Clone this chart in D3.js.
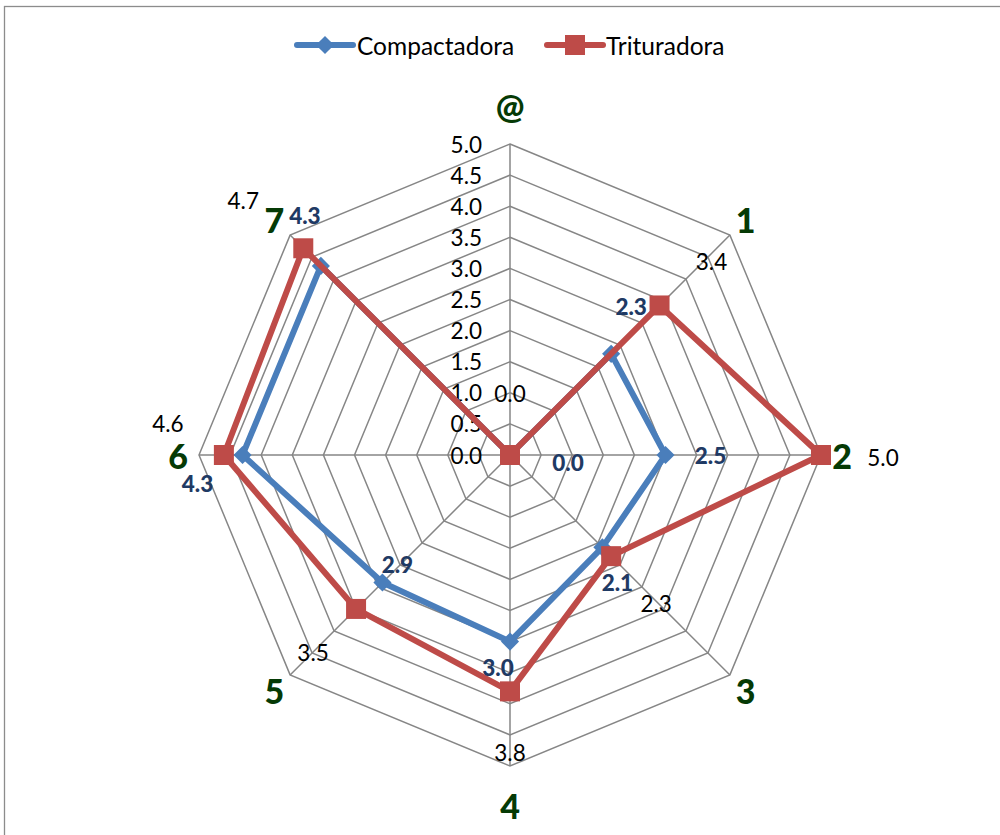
<!DOCTYPE html>
<html>
<head>
<meta charset="utf-8">
<script src="https://cdn.jsdelivr.net/npm/d3@7/dist/d3.min.js"></script>
<style>
  html, body { margin: 0; padding: 0; background: #fff; }
  svg { display: block; font-family: Lato, "Open Sans", sans-serif; }
</style>
</head>
<body>
<svg id="chart" width="1000" height="835"></svg>
<script>
// Radar chart: two machines rated on eight criteria
const categories = ["@", "1", "2", "3", "4", "5", "6", "7"];
const compactadora = [0.0, 2.3, 2.5, 2.1, 3.0, 2.9, 4.3, 4.3];
const trituradora  = [0.0, 3.4, 5.0, 2.3, 3.8, 3.5, 4.6, 4.7];
const seriesNames = ["Compactadora", "Trituradora"];
const tickValues = [0, 0.5, 1, 1.5, 2, 2.5, 3, 3.5, 4, 4.5, 5];

// Hand-tuned placement of each value label relative to its point
const compLabelOffsets = [[58, 7], [20, -47], [45, 0], [15, 35], [-12, 26], [15, -18], [-45, 28], [-16, -50]];
const tritLabelOffsets = [[0, -62], [52, -44], [62, 2], [45, 47], [0, 61], [-43, 44], [-56, -32], [-60, -48]];

const svg = d3.select("#chart");
const cx = 510, cy = 455, R = 311;
const gridColor = "#868686";
const blue = "#4A7EBB", red = "#BE4B48";

// chart frame
svg.append("rect")
  .attr("x", 4.5).attr("y", 6.5).attr("width", 1200).attr("height", 1000)
  .attr("fill", "none").attr("stroke", "#8c8c8c").attr("stroke-width", 1.3);

const r = d3.scaleLinear().domain([0, 5]).range([0, R]);
const angle = d3.scalePoint().domain(categories).range([0, 2 * Math.PI * 7 / 8]);

function pt(cat, v) {
  const a = angle(cat);
  return [cx + r(v) * Math.sin(a), cy - r(v) * Math.cos(a)];
}

// octagonal grid rings
const ring = d3.line().curve(d3.curveLinearClosed);
svg.append("g").selectAll("path")
  .data(tickValues.filter(v => v > 0))
  .join("path")
  .attr("d", v => ring(categories.map(c => pt(c, v))))
  .attr("fill", "none").attr("stroke", gridColor).attr("stroke-width", 1.5);

// spokes
svg.append("g").selectAll("line")
  .data(categories)
  .join("line")
  .attr("x1", cx).attr("y1", cy)
  .attr("x2", c => pt(c, 5)[0]).attr("y2", c => pt(c, 5)[1])
  .attr("stroke", gridColor).attr("stroke-width", 1.5);

// value axis labels along the top spoke
svg.append("g").selectAll("text")
  .data(tickValues)
  .join("text")
  .attr("x", cx - 28)
  .attr("y", v => cy - r(v))
  .attr("text-anchor", "end")
  .attr("dominant-baseline", "central")
  .attr("font-size", 22.5)
  .attr("fill", "#000")
  .text(v => d3.format(".1f")(v));

// category labels
svg.append("g").selectAll("text")
  .data(categories)
  .join("text")
  .attr("transform", c => {
    const a = angle(c);
    const lr = R + 21 + 18 * Math.pow(Math.abs(Math.cos(a)), 8);
    return `translate(${cx + lr * Math.sin(a)},${cy - lr * Math.cos(a)})`;
  })
  .attr("text-anchor", "middle")
  .attr("dominant-baseline", "central")
  .attr("font-size", 34)
  .attr("font-weight", "900")
  .attr("fill", "#053a05")
  .text(c => c);

const line = d3.line().curve(d3.curveLinearClosed);
const diamond = d3.symbol().type(d3.symbolDiamond2).size(210);
const square = d3.symbol().type(d3.symbolSquare).size(400);

const series = [
  { name: seriesNames[0], values: compactadora, color: blue, marker: diamond, offsets: compLabelOffsets,
    labelColor: "#1F3A64", labelWeight: "900" },
  { name: seriesNames[1], values: trituradora, color: red, marker: square, offsets: tritLabelOffsets,
    labelColor: "#000", labelWeight: "normal" }
];

series.forEach(s => {
  const pts = categories.map((c, i) => pt(c, s.values[i]));
  svg.append("path")
    .attr("d", line(pts))
    .attr("fill", "none").attr("stroke", s.color)
    .attr("stroke-width", 6).attr("stroke-linejoin", "round");
  svg.append("g").selectAll("path")
    .data(pts)
    .join("path")
    .attr("transform", p => `translate(${p[0]},${p[1]})`)
    .attr("d", s.marker)
    .attr("fill", s.color);
});

// value labels (drawn after lines so they stay readable)
series.forEach(s => {
  svg.append("g").selectAll("text")
    .data(categories)
    .join("text")
    .attr("x", (c, i) => pt(c, s.values[i])[0] + s.offsets[i][0])
    .attr("y", (c, i) => pt(c, s.values[i])[1] + s.offsets[i][1])
    .attr("text-anchor", "middle")
    .attr("dominant-baseline", "central")
    .attr("font-size", 22.5)
    .attr("font-weight", s.labelWeight)
    .attr("fill", s.labelColor)
    .text((c, i) => d3.format(".1f")(s.values[i]));
});

// legend
const legendItems = [
  { x: 297, textX: 357 },
  { x: 547, textX: 606 }
];
const lg = svg.append("g");
series.forEach((s, i) => {
  const L = legendItems[i];
  lg.append("line")
    .attr("x1", L.x).attr("x2", L.x + 56)
    .attr("y1", 45).attr("y2", 45)
    .attr("stroke", s.color).attr("stroke-width", 6).attr("stroke-linecap", "round");
  lg.append("path")
    .attr("transform", `translate(${L.x + 28},45)`)
    .attr("d", s.marker)
    .attr("fill", s.color);
  lg.append("text")
    .attr("x", L.textX).attr("y", 45)
    .attr("dominant-baseline", "central")
    .attr("font-size", 24.5)
    .attr("fill", "#000")
    .text(s.name);
});
</script>
</body>
</html>
